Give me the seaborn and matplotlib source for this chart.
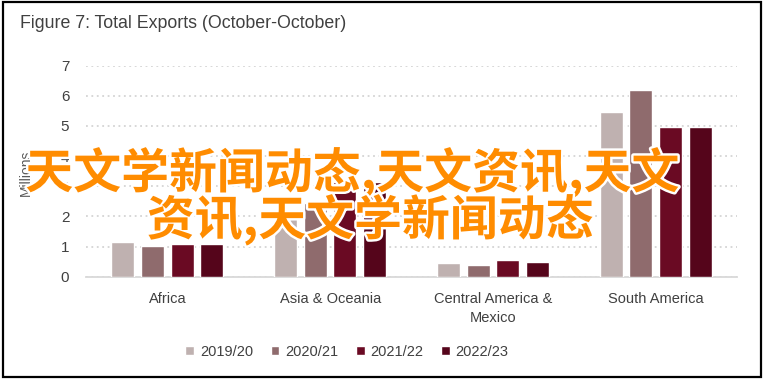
import numpy as np
import pandas as pd
import matplotlib
matplotlib.use('Agg')
import matplotlib.pyplot as plt
import matplotlib.patheffects as pe
from matplotlib.patches import Rectangle
import seaborn as sns

# chart values (millions)
regions = ['Africa', 'Asia & Oceania', 'Central America &\nMexico', 'South America']
years = ['2019/20', '2020/21', '2021/22', '2022/23']
v_2019 = [1.14, 2.24, 0.44, 5.46]
v_2020 = [1.01, 2.45, 0.39, 6.19]
v_2021 = [1.10, 3.15, 0.55, 4.96]
v_2022 = [1.08, 3.15, 0.48, 4.96]
colors = ['#BFB1B0', '#8F6B6D', '#6A0A23', '#55051B']

title = 'Figure 7: Total Exports (October-October)'
overlay_1 = '天文学新闻动态,天文资讯,天文'
overlay_2 = '资讯,天文学新闻动态'

rows = []
for yr, vals in zip(years, [v_2019, v_2020, v_2021, v_2022]):
    for reg, v in zip(regions, vals):
        rows.append({'region': reg, 'year': yr, 'value': v})
df = pd.DataFrame(rows)

sns.set_theme(style='white')
plt.rcParams['font.family'] = ['Liberation Sans', 'DejaVu Sans']

fig = plt.figure(figsize=(7.66, 3.83), dpi=100)
ax = fig.add_axes([86/766, 1-276.7/383, (737-86)/766, (276.7-65.7)/383])

sns.barplot(data=df, x='region', y='value', hue='year', order=regions,
            hue_order=years, palette=colors, saturation=1, width=0.728,
            gap=0.22, ax=ax, zorder=3)

ax.set_ylim(0, 7)
ax.set_yticks(range(0, 8))
ax.yaxis.grid(True, color='#D4D4D4', linestyle=(0, (1, 2)), linewidth=1.3, zorder=0)
ax.xaxis.grid(False)
for s in ['top', 'right', 'left']:
    ax.spines[s].set_visible(False)
ax.spines['bottom'].set_color('#D9D9D9')
ax.spines['bottom'].set_linewidth(1.3)
ax.tick_params(axis='both', length=0, colors='#404040')
ax.tick_params(axis='y', pad=12, labelsize=11)
ax.tick_params(axis='x', pad=11, labelsize=10.5)
for lab in ax.get_xticklabels():
    lab.set_linespacing(1.45)
ax.set_xlabel('')
ax.set_ylabel('Millions', fontsize=10, color='#595959')
ax.yaxis.set_label_coords(-0.081, 0.49)

leg = ax.legend(ncol=4, frameon=False, loc='center',
                bbox_to_anchor=(347/766, 1-352/383), bbox_transform=fig.transFigure,
                handlelength=0.6, handleheight=0.6, handletextpad=0.4,
                columnspacing=1.2, fontsize=10.5)
for t in leg.get_texts():
    t.set_color('#404040')

fig.text(20/766, 1-24/383, title, fontsize=12.8, color='#404040', va='center', ha='left')

fig.patches.append(Rectangle((3/766, 1-377/383), (761-3)/766, (377-1.5)/383,
                             transform=fig.transFigure, fill=False,
                             edgecolor='black', linewidth=1.6))

stroke = [pe.withStroke(linewidth=3.5, foreground='white')]
for txt, x, y in [(overlay_1, 352, 173), (overlay_2, 370, 220)]:
    fig.text(x/766, 1-y/383, txt, fontsize=34.5, color='#FF8C00', ha='center', va='center',
             family=['Noto Sans CJK SC', 'DejaVu Sans'], fontweight='bold',
             path_effects=stroke, zorder=10)

fig.savefig('out.png', dpi=100)
